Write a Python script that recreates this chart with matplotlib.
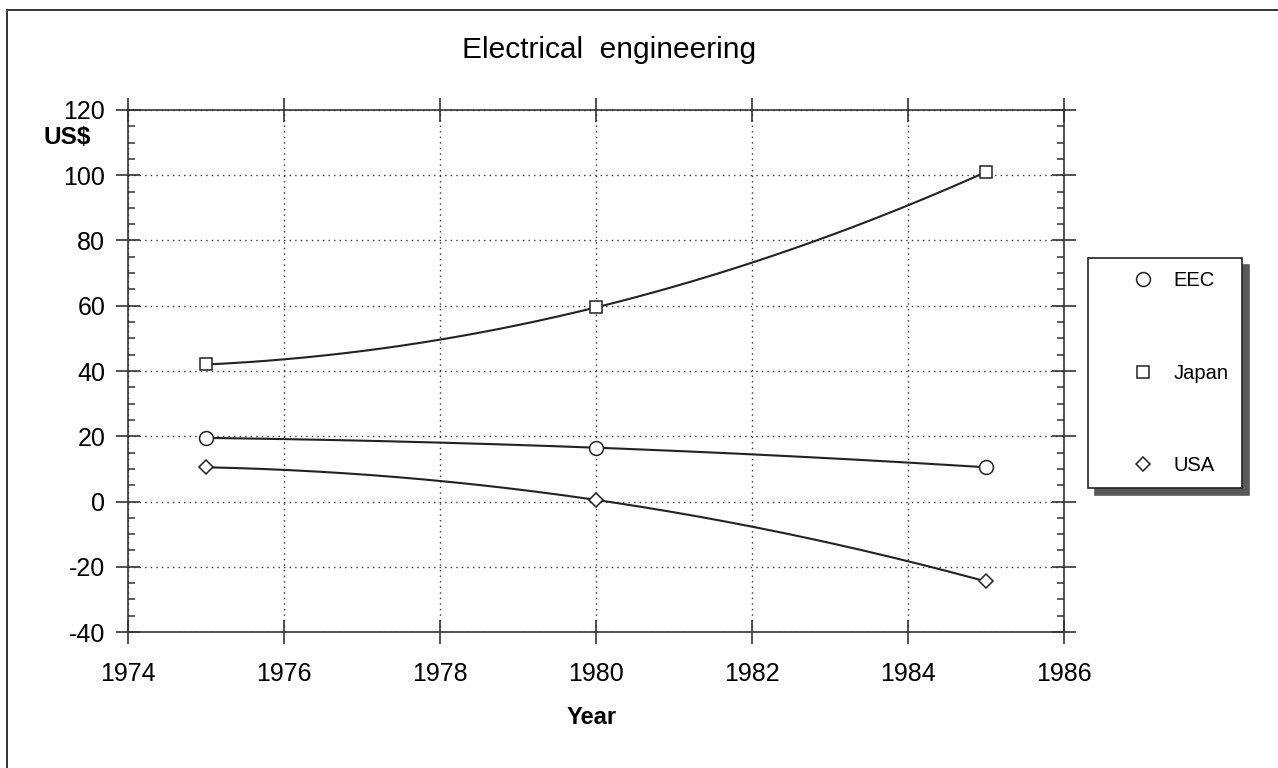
import numpy as np
import matplotlib.pyplot as plt
from matplotlib.ticker import MultipleLocator
from matplotlib.patches import Rectangle

plt.rcParams['font.family'] = ['Liberation Sans', 'DejaVu Sans']
plt.rcParams['axes.unicode_minus'] = False

# data
years = [1975, 1980, 1985]
eec = [19.5, 16.5, 10.5]
japan = [42, 59.5, 101]
usa = [10.5, 0.5, -24.5]

series = [
    ('EEC', eec, 'o', 10),
    ('Japan', japan, 's', 9),
    ('USA', usa, 'D', 7.5),
]

fig = plt.figure(figsize=(12.78, 7.68), dpi=100)
ax = fig.add_axes([0.1002, 0.177, 0.7324, 0.6798])

# outer frame: only the top and left edges show in the original
fig.add_artist(Rectangle((7 / 1278, -0.05), 1.2, 1.05 - 10 / 768,
                         transform=fig.transFigure, fill=False,
                         lw=1.4, ec='#333333'))

xs = np.linspace(years[0], years[-1], 200)
for name, vals, mk, ms in series:
    # smooth curve through the three points, like the original plot
    c = np.polyfit(years, vals, 2)
    ax.plot(xs, np.polyval(c, xs), color='#222222', lw=1.5, zorder=3)
    ax.plot(years, vals, linestyle='none', marker=mk, ms=ms,
            mfc='white', mec='#222222', mew=1.1, label=name, zorder=4)

ax.set_xlim(1974, 1986)
ax.set_ylim(-40, 120)
ax.xaxis.set_major_locator(MultipleLocator(2))
ax.yaxis.set_major_locator(MultipleLocator(20))
ax.yaxis.set_minor_locator(MultipleLocator(5))

ax.grid(True, which='major', linestyle=(0, (1, 3)), color='#333333', lw=1)
for s in ax.spines.values():
    s.set_linewidth(1.2)
    s.set_color('#333333')

ax.tick_params(which='major', direction='inout', length=17, width=1.2,
               top=True, right=True, labelsize=18, color='#333333')
ax.tick_params(axis='y', which='minor', direction='in', length=5,
               width=1.1, left=True, right=True, color='#333333')
ax.tick_params(axis='x', which='minor', bottom=False, top=False)
ax.tick_params(axis='x', pad=13)
ax.tick_params(axis='y', pad=8)

fig.text(609 / 1278, 1 - 50 / 768, 'Electrical  engineering', ha='center',
         va='center', fontsize=21.5)
fig.text(67 / 1278, 1 - 137 / 768, 'US$', ha='center', va='center',
         fontsize=17.5, fontweight='bold')
fig.text(592 / 1278, 1 - 717 / 768, 'Year', ha='center', va='center',
         fontsize=17, fontweight='bold')

leg = fig.legend(loc='upper left', bbox_to_anchor=(1088 / 1278, 1 - 258 / 768),
                 borderaxespad=0, frameon=True, fontsize=14.5,
                 handlelength=4.2, handletextpad=-0.6, labelspacing=3.65,
                 borderpad=0.65,
                 shadow={'ox': 5, 'oy': -5, 'color': '0.35', 'alpha': 1},
                 fancybox=False)
leg.get_frame().set_edgecolor('#222222')
leg.get_frame().set_linewidth(1.2)

fig.savefig('out.png', dpi=100)
